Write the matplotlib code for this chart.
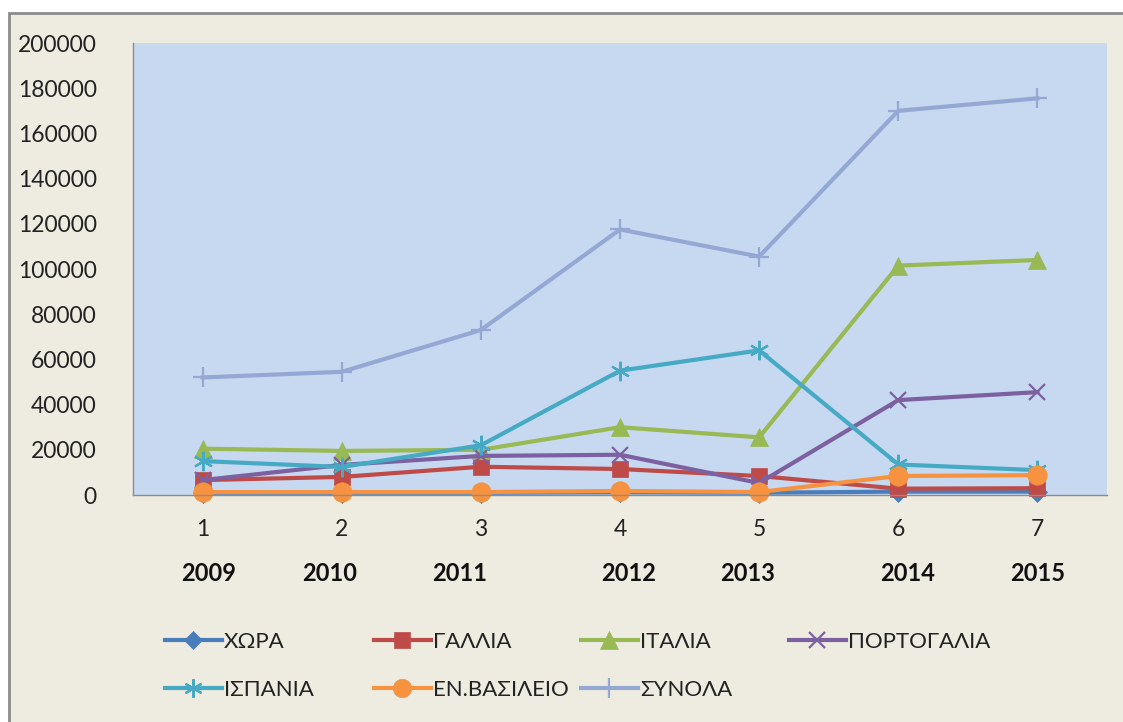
import matplotlib
matplotlib.use("Agg")
import matplotlib.pyplot as plt
from matplotlib.patches import Rectangle

plt.rcParams['font.family'] = ['Lato', 'Noto Sans', 'DejaVu Sans']

x_index = [1, 2, 3, 4, 5, 6, 7]
years = ['2009', '2010', '2011', '2012', '2013', '2014', '2015']

xora = [1000, 1000, 1000, 1200, 1000, 1500, 1500]
gallia = [6600, 8000, 12500, 11500, 8400, 2800, 3000]
italia = [20500, 19500, 20000, 30000, 25500, 101500, 104000]
portogalia = [6600, 13300, 17300, 17800, 5300, 42000, 45500]
ispania = [15000, 12400, 22000, 55000, 64000, 13500, 11000]
en_vasileio = [1300, 1300, 1300, 1800, 1300, 8400, 8800]
synola = [52000, 54500, 73000, 117500, 105500, 170000, 175500]

series = [
    ('ΧΩΡΑ', xora, '#4A7EBB', 'D', 10),
    ('ΓΑΛΛΙΑ', gallia, '#BE4B48', 's', 12),
    ('ΙΤΑΛΙΑ', italia, '#98B954', '^', 13),
    ('ΠΟΡΤΟΓΑΛΙΑ', portogalia, '#7D60A0', 'x', 12),
    ('ΙΣΠΑΝΙΑ', ispania, '#46AAC5', (6, 2, 0), 14),
    ('ΕΝ.ΒΑΣΙΛΕΙΟ', en_vasileio, '#F69240', 'o', 14),
    ('ΣΥΝΟΛΑ', synola, '#94A8D3', '+', 15),
]

W, H = 1123, 722
fig = plt.figure(figsize=(W / 100, H / 100), dpi=100)
fig.patch.set_facecolor('white')
# outer chart area with border
fig.add_artist(Rectangle((9 / W, -0.01), 1.2, (H - 13) / H + 0.01, transform=fig.transFigure,
                         facecolor='#EEECE1', edgecolor='#8C8C8C', linewidth=2, zorder=0))

ax = fig.add_axes([133 / W, 1 - 495 / H, (1107 - 133) / W, (495 - 43) / H])
ax.set_facecolor('#C6D9F1')

handles = []
for name, vals, col, mk, ms in series:
    mew = 1.6 if mk in ('x', '+') or isinstance(mk, tuple) else 0.5
    h, = ax.plot(x_index, vals, color=col, linewidth=3.0, marker=mk, markersize=ms,
                 markerfacecolor=col, markeredgecolor=col, markeredgewidth=mew,
                 label=name, solid_joinstyle='round', clip_on=False)
    handles.append(h)

ax.set_xlim(0.5, 7.5)
ax.set_ylim(0, 200000)
ax.set_yticks(range(0, 200001, 20000))
ax.set_yticklabels([str(v) for v in range(0, 200001, 20000)], fontsize=16.5, color='#222222')
ax.set_xticks(x_index)
ax.set_xticklabels([str(v) for v in x_index], fontsize=16.5, color='#222222')
ax.tick_params(axis='both', length=0)
ax.tick_params(axis='y', pad=26)
ax.tick_params(axis='x', pad=17)
for s in ['top', 'right']:
    ax.spines[s].set_visible(False)
ax.spines['left'].set_color('#8C8C8C')
ax.spines['bottom'].set_color('#8C8C8C')
ax.spines['left'].set_linewidth(1)
ax.spines['bottom'].set_linewidth(1)

# year labels (separate text boxes, slightly offset as in the original)
year_offsets = [0.04, -0.09, -0.15, 0.06, -0.08, 0.07, 0.0]
for xi, yr, off in zip(x_index, years, year_offsets):
    ax.text(xi + off, -0.174, yr, transform=ax.get_xaxis_transform(), ha='center',
            va='center', fontsize=17, fontweight='bold', color='#111111')

# legend, fixed column grid
col_x = [165, 374, 581, 789]
row_y = [642, 690]
for i, h in enumerate(handles):
    r, c = divmod(i, 4)
    leg = fig.legend([h], [h.get_label()], loc='center left',
                     bbox_to_anchor=(col_x[c] / W, 1 - row_y[r] / H),
                     frameon=False, fontsize=16, handlelength=2.55, handletextpad=0.1,
                     borderaxespad=0, borderpad=0, markerscale=0.95)
    for t in leg.get_texts():
        t.set_color('#222222')

fig.savefig('out.png', dpi=100, facecolor=fig.get_facecolor())
